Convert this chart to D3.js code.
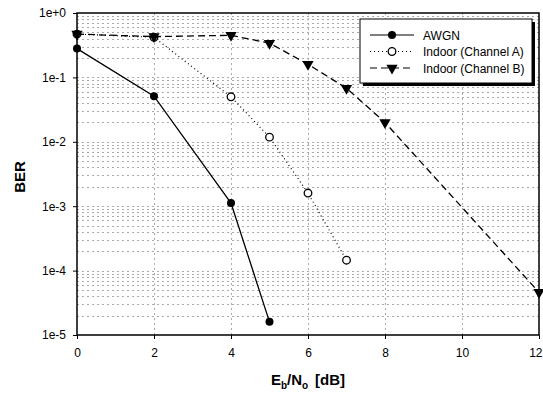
<!DOCTYPE html>
<html lang="en">
<head>
<meta charset="UTF-8">
<title>BER vs Eb/No</title>
<script src="https://d3js.org/d3.v7.min.js"></script>
<style>
  body { margin: 0; background: #fff; }
  text { font-family: "Liberation Sans", Arial, sans-serif; }
</style>
</head>
<body>
<svg id="chart" width="543" height="393"></svg>
<script>
// data
const awgnX = [0, 2, 4, 5];
const awgnY = [0.28, 0.051, 0.00112, 0.000016];
const chanAX = [0, 2, 4, 5, 6, 7];
const chanAY = [0.47, 0.42, 0.05, 0.0118, 0.0016, 0.000145];
const chanBX = [0, 2, 4, 5, 6, 7, 8, 12];
const chanBY = [0.47, 0.43, 0.45, 0.34, 0.16, 0.068, 0.02, 0.000046];
const xTicks = [0, 2, 4, 6, 8, 10, 12];
const yTicks = [1, 1e-1, 1e-2, 1e-3, 1e-4, 1e-5];
const yTickLabels = ["1e+0", "1e-1", "1e-2", "1e-3", "1e-4", "1e-5"];

const svg = d3.select('#chart');
const margin = { left: 77, right: 4, top: 13, bottom: 58 };
const W = 543, H = 393;

const x = d3.scaleLinear().domain([0, 12]).range([margin.left, W - margin.right]);
const y = d3.scaleLog().domain([1e-5, 1]).range([H - margin.bottom, margin.top]);

// grid
const grid = svg.append('g').attr('stroke', '#aaa').attr('stroke-width', 1)
    .attr('stroke-dasharray', '2,3');
const minor = [];
for (let e = -5; e < 0; e++) for (let m = 1; m < 10; m++) minor.push(m * Math.pow(10, e));
grid.selectAll('line.h').data(minor.slice(1)).join('line')
    .attr('x1', x(0)).attr('x2', x(12))
    .attr('y1', d => Math.round(y(d)) + 0.5).attr('y2', d => Math.round(y(d)) + 0.5);
grid.selectAll('line.v').data(xTicks.slice(1, -1)).join('line')
    .attr('y1', y(1)).attr('y2', y(1e-5))
    .attr('x1', d => Math.round(x(d)) + 0.5).attr('x2', d => Math.round(x(d)) + 0.5);

// axes
const xAxis = svg.append('g').attr('transform', `translate(0,${y(1e-5)})`)
    .call(d3.axisBottom(x).tickValues(xTicks).tickSize(4).tickPadding(9));
const yAxis = svg.append('g').attr('transform', `translate(${x(0)},0)`)
    .call(d3.axisLeft(y).tickValues(yTicks).tickFormat((d, i) => yTickLabels[i]).tickSize(4).tickPadding(7));
[xAxis, yAxis].forEach(a => {
    a.select('.domain').remove();
    a.selectAll('text').attr('font-size', 12).attr('fill', '#000');
    a.selectAll('.tick line').attr('stroke', '#000');
});
// last x label sits on the page edge, nudge it in
xAxis.selectAll('.tick text').filter(d => d === 12).attr('text-anchor', 'end').attr('dx', 3);

// frame
svg.append('rect')
    .attr('x', x(0)).attr('y', y(1))
    .attr('width', x(12) - x(0)).attr('height', y(1e-5) - y(1))
    .attr('fill', 'none').attr('stroke', '#000').attr('stroke-width', 1.5);

// series
const line = d3.line().x(d => x(d[0])).y(d => y(d[1]));
const series = [
    { name: 'AWGN', xs: awgnX, ys: awgnY, dash: null, marker: 'dot' },
    { name: 'Indoor (Channel A)', xs: chanAX, ys: chanAY, dash: '1,3', marker: 'circle' },
    { name: 'Indoor (Channel B)', xs: chanBX, ys: chanBY, dash: '7,4', marker: 'tri' }
];
const tri = d3.symbol().type(d3.symbolTriangle).size(55);

function drawMarker(g, kind, cx, cy) {
    if (kind === 'dot') {
        g.append('circle').attr('cx', cx).attr('cy', cy).attr('r', 4).attr('fill', '#000');
    } else if (kind === 'circle') {
        g.append('circle').attr('cx', cx).attr('cy', cy).attr('r', 3.8)
            .attr('fill', '#fff').attr('stroke', '#000').attr('stroke-width', 1.3);
    } else {
        g.append('path').attr('d', tri)
            .attr('transform', `translate(${cx},${cy}) rotate(180)`).attr('fill', '#000');
    }
}

series.forEach(s => {
    const pts = s.xs.map((v, i) => [v, s.ys[i]]);
    svg.append('path').attr('d', line(pts)).attr('fill', 'none')
        .attr('stroke', '#000').attr('stroke-width', s.marker === 'circle' ? 1.2 : 1.3)
        .attr('stroke-dasharray', s.dash);
    const g = svg.append('g');
    pts.forEach(p => drawMarker(g, s.marker, x(p[0]), y(p[1])));
});

// legend
const lg = svg.append('g').attr('transform', 'translate(360,19)');
lg.append('rect').attr('x', 3).attr('y', 3).attr('width', 172).attr('height', 64).attr('fill', '#000');
lg.append('rect').attr('x', 0).attr('y', 0).attr('width', 172).attr('height', 64)
    .attr('fill', '#fff').attr('stroke', '#000').attr('stroke-width', 1);
series.forEach((s, i) => {
    const yy = 16 + i * 16.5;
    lg.append('line').attr('x1', 10).attr('x2', 54).attr('y1', yy).attr('y2', yy)
        .attr('stroke', '#000').attr('stroke-width', 1.2).attr('stroke-dasharray', s.dash);
    drawMarker(lg, s.marker, 32, yy);
    lg.append('text').attr('x', 63).attr('y', yy + 4.5).attr('font-size', 12).text(s.name);
});

// axis titles
svg.append('text').attr('transform', 'translate(25,177) rotate(-90)')
    .attr('text-anchor', 'middle').attr('font-size', 15).attr('font-weight', 'bold').text('BER');
const xt = svg.append('text').attr('x', 308).attr('y', 385).attr('text-anchor', 'middle')
    .attr('font-size', 15).attr('font-weight', 'bold');
xt.append('tspan').text('E');
xt.append('tspan').attr('font-size', 10).attr('dy', 4).text('b');
xt.append('tspan').attr('dy', -4).text('/N');
xt.append('tspan').attr('font-size', 10).attr('dy', 4).text('o');
xt.append('tspan').attr('dy', -4).attr('dx', 7).text('[dB]');
</script>
</body>
</html>
